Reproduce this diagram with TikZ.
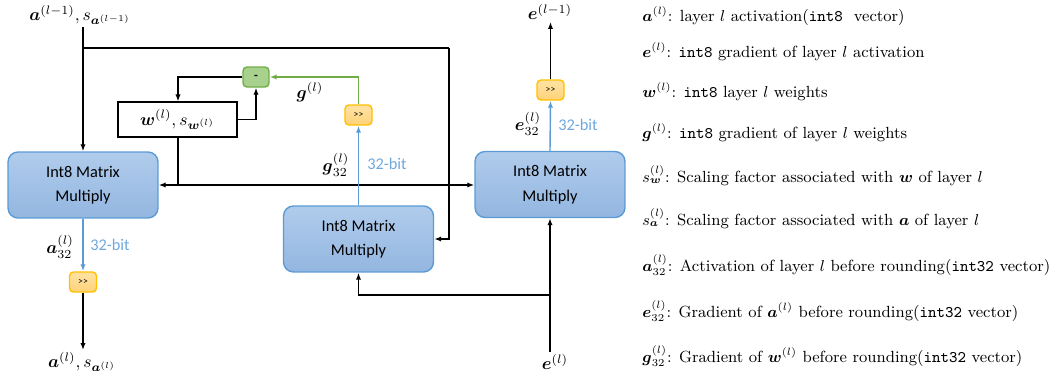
\documentclass[tikz,border=0pt]{standalone}
\usepackage{amsmath}
\usepackage{fontspec}
\newfontfamily\calibri{Carlito}
\usetikzlibrary{arrows.meta,positioning}

\definecolor{boxblue}{HTML}{5B9BD5}
\definecolor{boxtop}{HTML}{B0CCEC}
\definecolor{boxbot}{HTML}{93B6E0}
\definecolor{shtop}{HTML}{FFE3A3}
\definecolor{shbot}{HTML}{FFD27A}
\definecolor{shline}{HTML}{FFC000}
\definecolor{mfill}{HTML}{A9D18E}
\definecolor{mline}{HTML}{70AD47}
\definecolor{bittext}{HTML}{6FA8DC}

\tikzset{
 mmul/.style={draw=boxblue,line width=0.8pt,rounded corners=0.2cm,
   top color=boxtop,bottom color=boxbot,minimum width=3cm,
   minimum height=1.32cm,align=center,
   font=\calibri\fontsize{9.3}{14}\selectfont},
 shbox/.style={draw=shline,line width=0.8pt,rounded corners=0.08cm,
   top color=shtop,bottom color=shbot,minimum width=0.54cm,
   minimum height=0.4cm,inner sep=0pt,
   font=\calibri\fontsize{5.5}{6}\selectfont},
 minusbox/.style={draw=mline,line width=0.8pt,rounded corners=0.08cm,
   fill=mfill,minimum width=0.52cm,minimum height=0.4cm,inner sep=0pt,
   font=\calibri\bfseries\fontsize{7}{8}\selectfont},
 wbox/.style={draw,line width=0.6pt,minimum width=2.38cm,minimum height=0.7cm},
 lbl/.style={inner sep=1pt,font=\fontsize{10}{12}\selectfont},
 bit/.style={text=bittext,font=\calibri\fontsize{9.3}{11}\selectfont},
 legend/.style={anchor=base west,inner sep=0pt,font=\fontsize{9.2}{11}\selectfont},
 arr/.style={-{Latex[length=4pt,width=3pt]},line width=0.9pt},
 barr/.style={-{Latex[length=4pt,width=3pt]},draw=boxblue,line width=0.8pt},
 garr/.style={-{Latex[length=4pt,width=3pt]},draw=mline,line width=0.8pt},
}

\begin{document}
\begin{tikzpicture}[x=0.02cm,y=-0.02cm]
\useasboundingbox (0,0) rectangle (1062,379);

% matrix multiply blocks
\node[mmul] (m1) at (83,185) {Int8 Matrix\\Multiply};
\node[mmul] (m2) at (358.5,239) {Int8 Matrix\\Multiply};
\node[mmul] (m3) at (550,184.5) {Int8 Matrix\\Multiply};

% weights, update and shifts
\node[wbox] (w) at (177.5,119.5) {$\boldsymbol{w}^{(l)},s_{\boldsymbol{w}^{(l)}}$};
\node[minusbox] (minus) at (256,77) {-};
\node[shbox] (gsh) at (358.5,115) {>>};
\node[shbox] (esh) at (550.5,90) {>>};
\node[shbox] (ash) at (83,282) {>>};

% inputs and outputs
\node[lbl] (ain) at (80,15) {$\boldsymbol{a}^{(l-1)},s_{\boldsymbol{a}^{(l-1)}}$};
\node[lbl] (aout) at (82,362) {$\boldsymbol{a}^{(l)},s_{\boldsymbol{a}^{(l)}}$};
\node[lbl] (eout) at (550,12) {$\boldsymbol{e}^{(l-1)}$};
\node[lbl] (ein) at (555,362) {$\boldsymbol{e}^{(l)}$};

\coordinate (abr) at (83,48);
\coordinate (aturn) at (449,48);
\coordinate (wbr) at (178,185);
\coordinate (ebr) at (550,295);

% forward pass
\draw[arr] (ain.south -| m1.north) -- (m1.north);
\draw[line width=0.9pt] (abr) -- (aturn);
\draw[arr] (aturn) |- (m2.east);
\draw[line width=0.9pt] (w.south -| wbr) -- (wbr);
\draw[arr] (wbr) -- (m1.east);
\draw[arr] (wbr) -- (wbr -| m3.west);
\draw[barr] (m1.south) -- (ash.north);
\draw[arr] (ash.south) -- (aout.north -| ash.south);
\node[lbl] at (60,247) {$\boldsymbol{a}_{32}^{(l)}$};
\node[bit] at (110,245) {32-bit};

% backward pass
\draw[arr] (ein.north -| m3.south) -- (m3.south);
\draw[arr] (ebr) -| (m2.south);
\draw[barr] (m3.north) -- (esh.south);
\draw[arr] (esh.north) -- (eout.south -| esh.north);
\node[lbl] at (528,124) {$\boldsymbol{e}_{32}^{(l)}$};
\node[bit] at (578,125) {32-bit};

% weight update
\draw[barr] (m2.north) -- (gsh.south);
\node[lbl] at (336,165) {$\boldsymbol{g}_{32}^{(l)}$};
\node[bit] at (387,164) {32-bit};
\draw[garr] (gsh.north) |- (minus.east);
\node[lbl] at (310,92) {$\boldsymbol{g}^{(l)}$};
\draw[arr] (minus.west) -| (w.north -| wbr);
\draw[arr] (w.east) -| (minus.south);

% legend
\foreach \i/\y/\txt in {
 1/21/{$\boldsymbol{a}^{(l)}$: layer $l$ activation(\texttt{int8}\ \ vector)},
 2/57/{$\boldsymbol{e}^{(l)}$: \texttt{int8} gradient of layer $l$ activation},
 3/97/{$\boldsymbol{w}^{(l)}$: \texttt{int8} layer $l$ weights},
 4/138/{$\boldsymbol{g}^{(l)}$: \texttt{int8} gradient of layer $l$ weights},
 5/182/{$s_{\boldsymbol{w}}^{(l)}$: Scaling factor associated with $\boldsymbol{w}$ of layer $l$},
 6/225/{$s_{\boldsymbol{a}}^{(l)}$: Scaling factor associated with $\boldsymbol{a}$ of layer $l$},
 7/271/{$\boldsymbol{a}_{32}^{(l)}$: Activation of layer $l$ before rounding(\texttt{int32} vector)},
 8/317/{$\boldsymbol{e}_{32}^{(l)}$: Gradient of $\boldsymbol{a}^{(l)}$ before rounding(\texttt{int32} vector)},
 9/362/{$\boldsymbol{g}_{32}^{(l)}$: Gradient of $\boldsymbol{w}^{(l)}$ before rounding(\texttt{int32} vector)}}
 \node[legend] (leg\i) at (642,\y) {\txt};
\end{tikzpicture}
\end{document}
